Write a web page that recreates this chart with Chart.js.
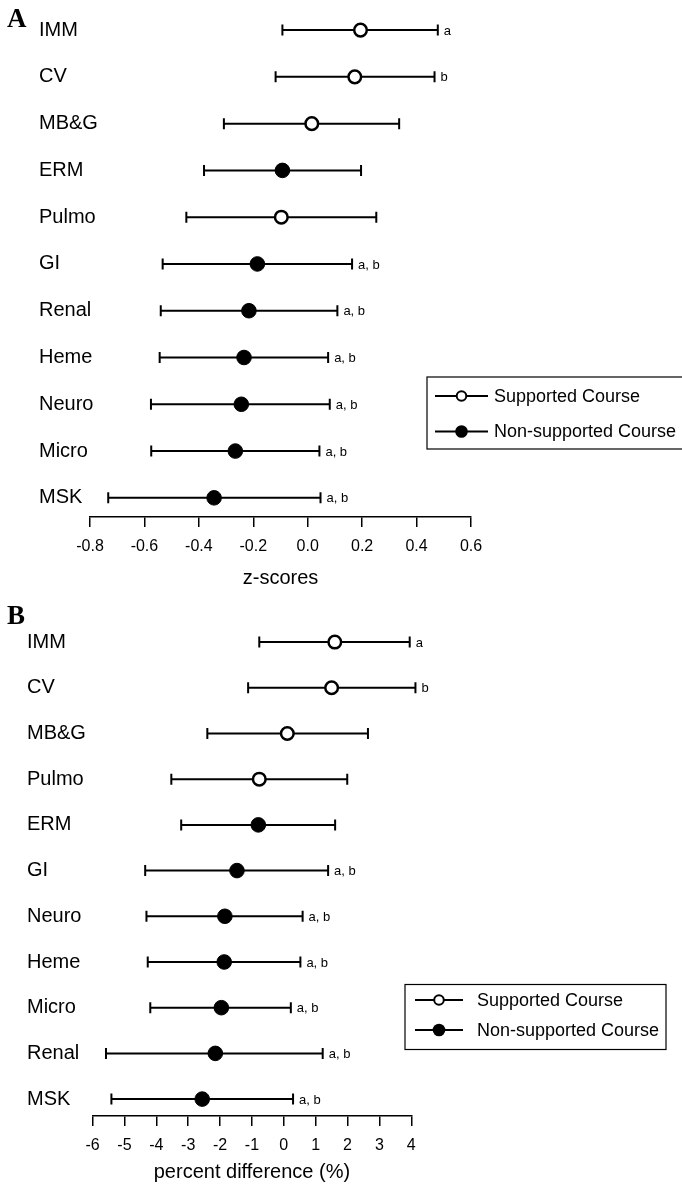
<!DOCTYPE html>
<html>
<head>
<meta charset="utf-8">
<script src="https://cdn.jsdelivr.net/npm/chart.js@4.4.1/dist/chart.umd.min.js"></script>
<style>
  body { margin: 0; background: #fff; }
  .panel { position: absolute; left: 0; width: 682px; }
</style>
</head>
<body>
<div class="panel" style="top:0;height:600px"><canvas id="chartA"></canvas></div>
<div class="panel" style="top:600px;height:584px"><canvas id="chartB"></canvas></div>
<script>
// Panel A: z-scores by course (mean with lower / upper bounds)
const coursesA = ['IMM', 'CV', 'MB&G', 'ERM', 'Pulmo', 'GI', 'Renal', 'Heme', 'Neuro', 'Micro', 'MSK'];
const meanA = [0.194, 0.173, 0.015, -0.093, -0.097, -0.185, -0.216, -0.234, -0.244, -0.266, -0.344];
const lowA = [-0.093, -0.118, -0.308, -0.381, -0.446, -0.533, -0.540, -0.544, -0.576, -0.575, -0.733];
const highA = [0.478, 0.466, 0.336, 0.196, 0.252, 0.163, 0.109, 0.075, 0.081, 0.043, 0.047];
const supportedA = [true, true, true, false, true, false, false, false, false, false, false];
const notesA = ['a', 'b', '', '', '', 'a, b', 'a, b', 'a, b', 'a, b', 'a, b', 'a, b'];

// Panel B: percent difference by course
const coursesB = ['IMM', 'CV', 'MB&G', 'Pulmo', 'ERM', 'GI', 'Neuro', 'Heme', 'Micro', 'Renal', 'MSK'];
const meanB = [1.60, 1.50, 0.11, -0.77, -0.80, -1.47, -1.85, -1.87, -1.96, -2.15, -2.56];
const lowB = [-0.77, -1.12, -2.40, -3.53, -3.22, -4.35, -4.31, -4.27, -4.19, -5.58, -5.41];
const highB = [3.95, 4.13, 2.64, 1.99, 1.61, 1.39, 0.59, 0.52, 0.22, 1.22, 0.29];
const supportedB = [true, true, true, true, false, false, false, false, false, false, false];
const notesB = ['a', 'b', '', '', '', 'a, b', 'a, b', 'a, b', 'a, b', 'a, b', 'a, b'];

const legendLabels = ['Supported Course', 'Non-supported Course'];

Chart.defaults.font.family = '"Liberation Sans", Arial, sans-serif';
Chart.defaults.color = '#000';

// horizontal error bars with end caps, plus the a / b notes
const errorBars = {
  id: 'errorBars',
  beforeDatasetsDraw(chart, args, opts) {
    const { ctx, scales: { x, y } } = chart;
    ctx.save();
    ctx.strokeStyle = '#000';
    ctx.fillStyle = '#000';
    ctx.lineWidth = 2;
    ctx.font = '13px "Liberation Sans", Arial, sans-serif';
    ctx.textBaseline = 'middle';
    opts.low.forEach((lo, i) => {
      const yp = y.getPixelForValue(i);
      const x0 = x.getPixelForValue(lo);
      const x1 = x.getPixelForValue(opts.high[i]);
      ctx.beginPath();
      ctx.moveTo(x0, yp); ctx.lineTo(x1, yp);
      ctx.moveTo(x0, yp - 5.5); ctx.lineTo(x0, yp + 5.5);
      ctx.moveTo(x1, yp - 5.5); ctx.lineTo(x1, yp + 5.5);
      ctx.stroke();
      if (opts.notes[i]) ctx.fillText(opts.notes[i], x1 + 6, yp + 1);
    });
    ctx.restore();
  }
};

// boxed legend + panel letter
const boxLegend = {
  id: 'boxLegend',
  afterDraw(chart, args, opts) {
    const { ctx } = chart;
    const b = opts.box;
    ctx.save();
    ctx.strokeStyle = '#000';
    ctx.lineWidth = 1.2;
    ctx.strokeRect(b.left, b.top, b.width, b.height);
    ctx.font = '18px "Liberation Sans", Arial, sans-serif';
    ctx.textBaseline = 'middle';
    ctx.fillStyle = '#000';
    legendLabels.forEach((label, i) => {
      const yp = opts.rows[i];
      ctx.lineWidth = 2;
      ctx.beginPath();
      ctx.moveTo(opts.lineX[0], yp);
      ctx.lineTo(opts.lineX[1], yp);
      ctx.stroke();
      const mx = (opts.lineX[0] + opts.lineX[1]) / 2;
      ctx.beginPath();
      if (i === 0) {
        ctx.arc(mx, yp, 4.8, 0, Math.PI * 2);
        ctx.fillStyle = '#fff';
        ctx.fill();
        ctx.stroke();
      } else {
        ctx.arc(mx, yp, 6.3, 0, Math.PI * 2);
        ctx.fillStyle = '#000';
        ctx.fill();
      }
      ctx.fillStyle = '#000';
      ctx.fillText(label, opts.textX, yp + 1);
    });
    ctx.font = 'bold 27px "Liberation Serif", "Times New Roman", serif';
    ctx.textBaseline = 'alphabetic';
    ctx.fillText(opts.letter, 7, opts.letterY);
    ctx.restore();
  }
};

function makeChart(id, p) {
  const pts = (flag) => p.mean
    .map((m, i) => ({ x: m, y: i }))
    .filter((_, i) => p.supported[i] === flag);
  return new Chart(document.getElementById(id), {
    type: 'scatter',
    data: {
      datasets: [
        {
          label: legendLabels[0],
          data: pts(true),
          pointRadius: 6.3,
          pointBorderWidth: 2.5,
          backgroundColor: '#fff',
          borderColor: '#000'
        },
        {
          label: legendLabels[1],
          data: pts(false),
          pointRadius: 7.3,
          pointBorderWidth: 1,
          backgroundColor: '#000',
          borderColor: '#000'
        }
      ]
    },
    options: {
      responsive: true,
      maintainAspectRatio: false,
      animation: false,
      layout: { padding: { left: p.padLeft, right: p.padRight, top: 8, bottom: 0 } },
      scales: {
        x: {
          type: 'linear',
          min: p.xMin,
          max: p.xMax,
          ticks: {
            stepSize: p.xStep,
            padding: 10,
            font: { size: 16 },
            color: '#000',
            callback: p.xFormat
          },
          grid: { drawOnChartArea: false, drawTicks: true, tickLength: 10, color: '#000', lineWidth: 1.5 },
          border: { display: true, color: '#000', width: 1.5 },
          title: { display: true, text: p.xTitle, font: { size: 20 }, color: '#000', padding: { top: 0, bottom: p.titlePad } },
          afterFit: (s) => {
            s.height = p.xHeight;
            s.paddingLeft = 0;
            s.paddingRight = 0;
          }
        },
        y: {
          type: 'linear',
          reverse: true,
          min: p.yMin,
          max: p.yMax,
          afterBuildTicks: (s) => { s.ticks = p.courses.map((_, i) => ({ value: i })); },
          ticks: {
            autoSkip: false,
            crossAlign: 'far',
            font: { size: 20 },
            color: '#000',
            callback: (v) => p.courses[v]
          },
          grid: { display: false },
          border: { display: false },
          afterFit: (s) => {
            s.width = p.yWidth;
            s.paddingTop = 0;
            s.paddingBottom = 0;
            // left-aligned labels are wider than the axis box, so don't clip them
            s._computeLabelArea = () => undefined;
          }
        }
      },
      plugins: {
        legend: { display: false },
        tooltip: { enabled: false },
        errorBars: { low: p.low, high: p.high, notes: p.notes },
        boxLegend: p.legend
      }
    },
    plugins: [errorBars, boxLegend]
  });
}

makeChart('chartA', {
  courses: coursesA, mean: meanA, low: lowA, high: highA, supported: supportedA, notes: notesA,
  xMin: -0.8, xMax: 0.6, xStep: 0.2,
  xFormat: (v) => (Math.abs(v) < 1e-9 ? 0 : v).toFixed(1),
  xTitle: 'z-scores',
  yMin: -0.455, yMax: 10.41,
  padLeft: 39, yWidth: 51, padRight: 211, xHeight: 83, titlePad: 10,
  legend: {
    box: { left: 427, top: 377, width: 260, height: 72 },
    rows: [396, 431.5], lineX: [435, 488], textX: 494,
    letter: 'A', letterY: 27
  }
});

makeChart('chartB', {
  courses: coursesB, mean: meanB, low: lowB, high: highB, supported: supportedB, notes: notesB,
  xMin: -6, xMax: 4, xStep: 1, xFormat: (v) => String(v), xTitle: 'percent difference (%)',
  yMin: -0.728, yMax: 10.37,
  padLeft: 27, yWidth: 65.6, padRight: 270.7, xHeight: 68, titlePad: 0,
  legend: {
    box: { left: 405, top: 384.5, width: 261, height: 65 },
    rows: [400, 430], lineX: [415, 463], textX: 477,
    letter: 'B', letterY: 24
  }
});
</script>
</body>
</html>
